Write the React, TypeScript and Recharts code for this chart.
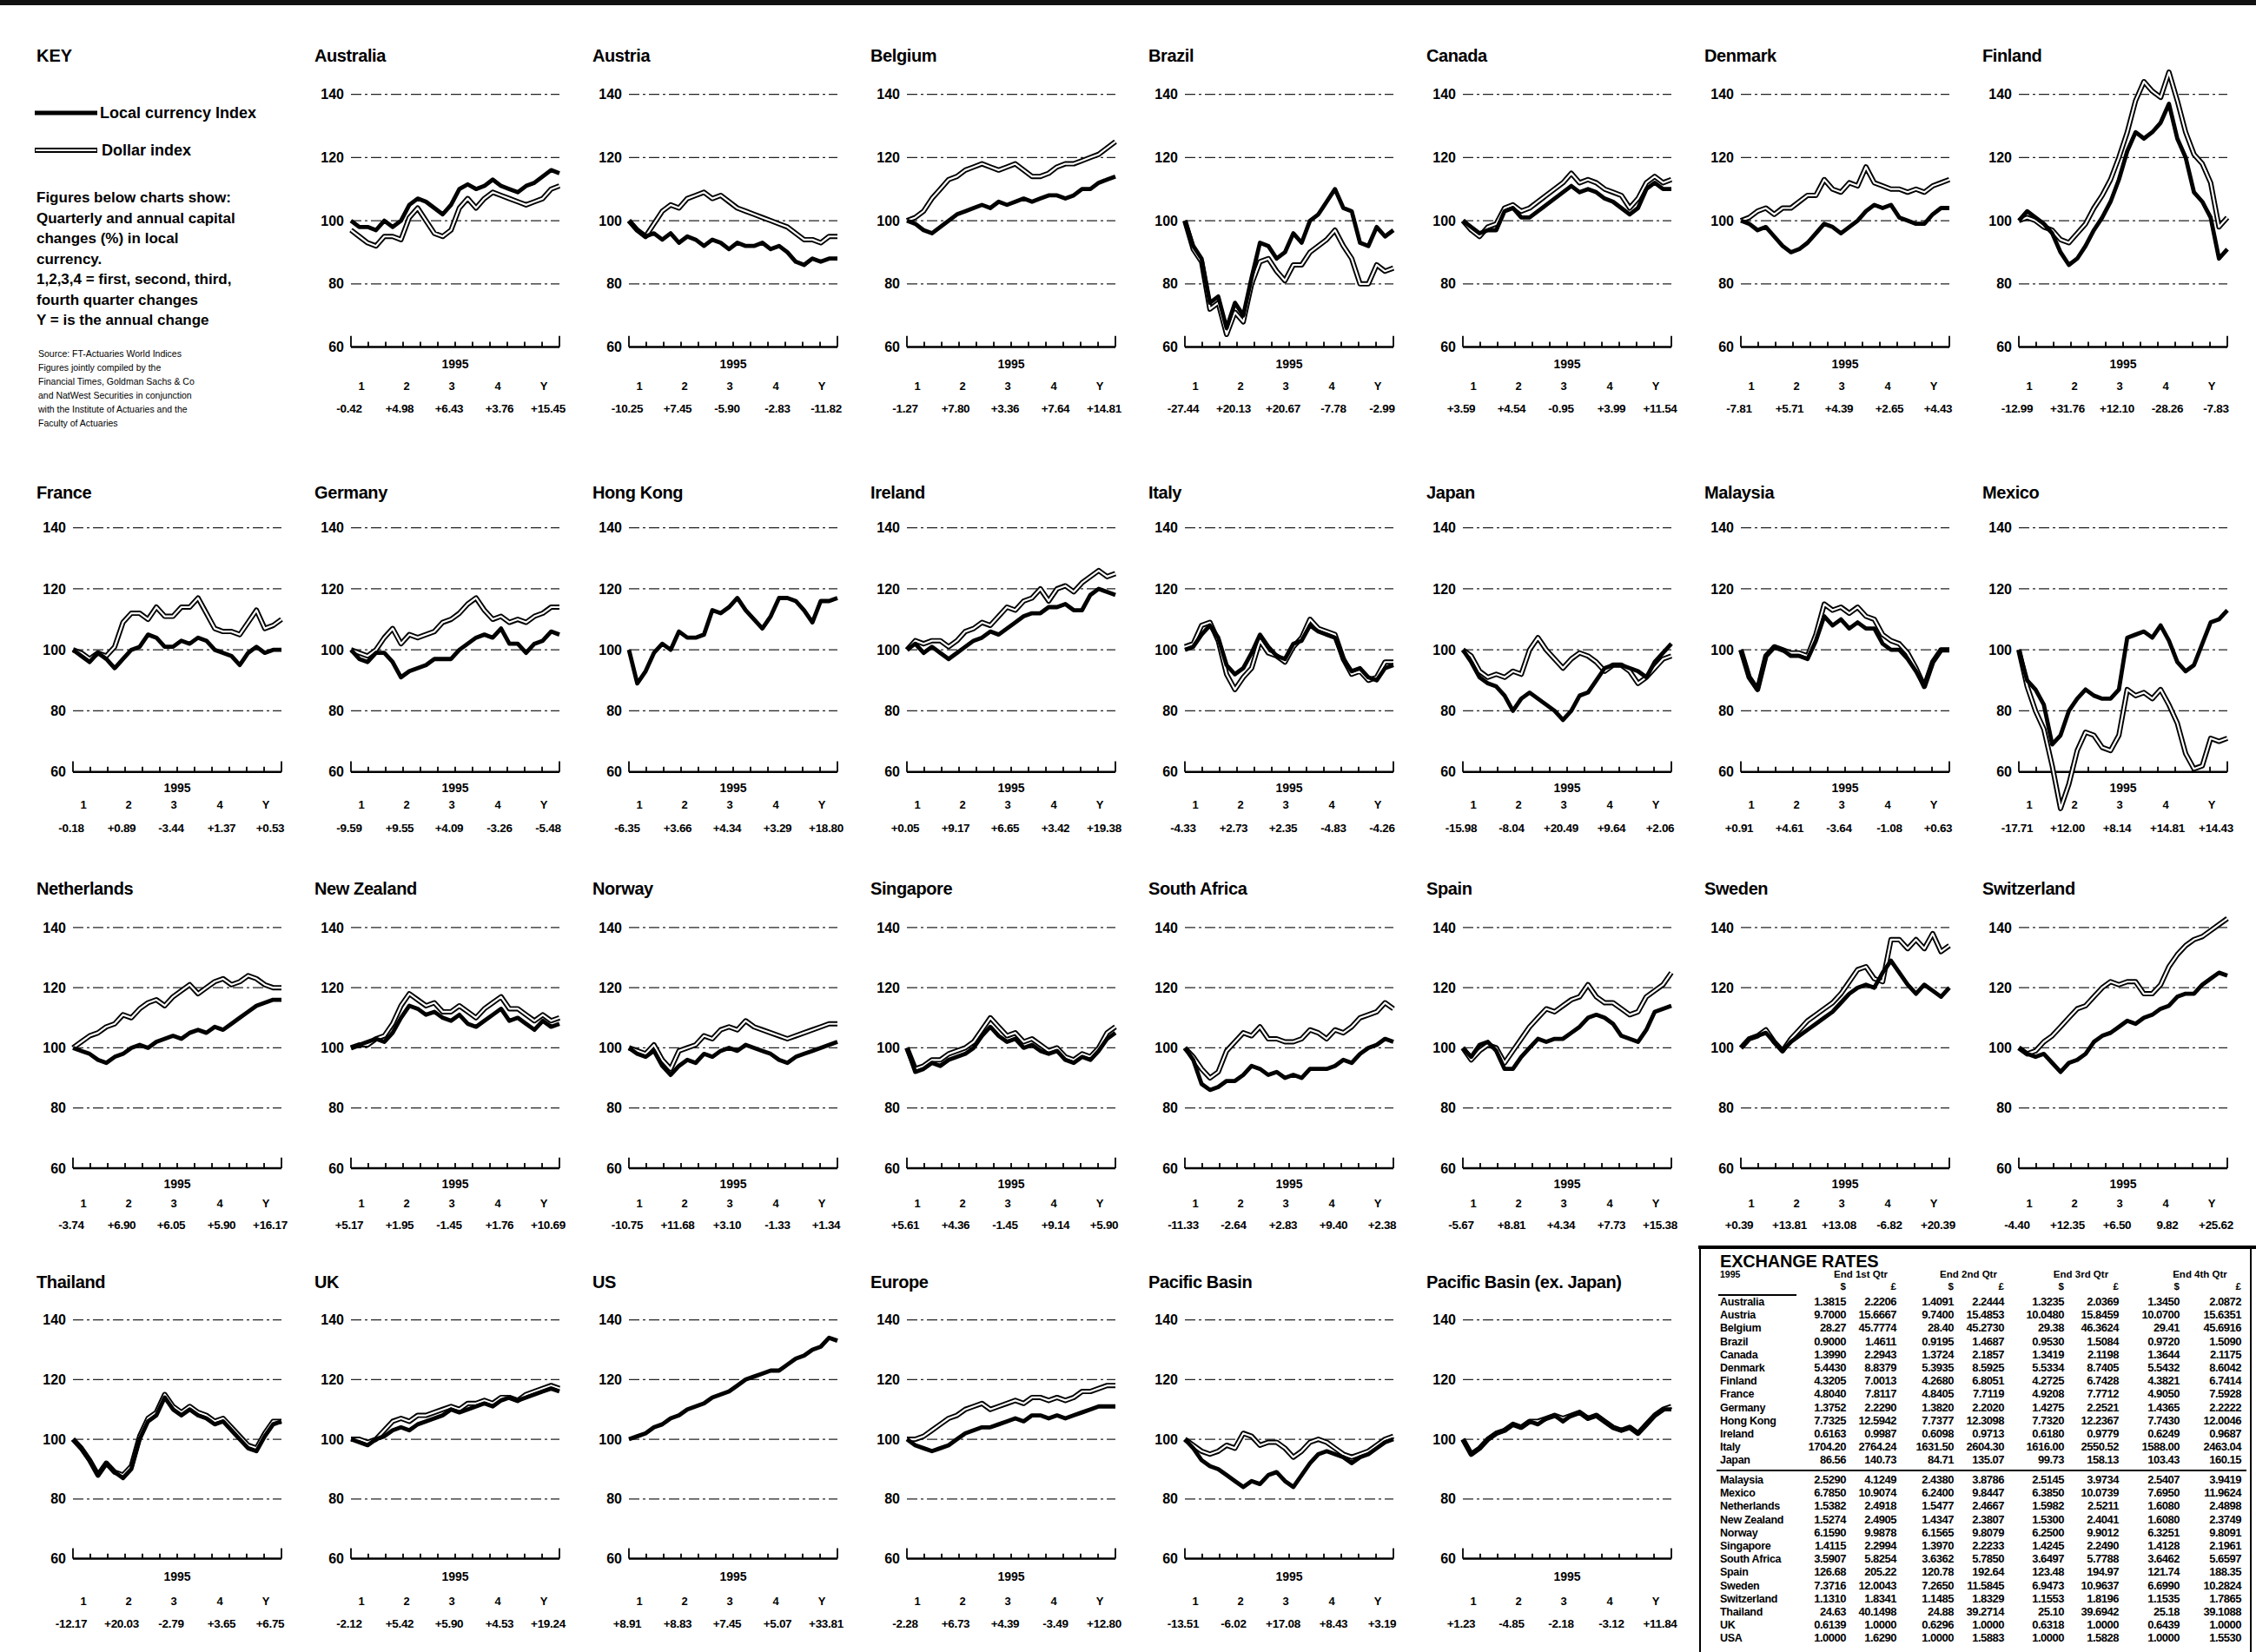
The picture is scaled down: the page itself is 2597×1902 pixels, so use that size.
import React from "react";
import { Line, LineChart, ReferenceLine, XAxis, YAxis } from "recharts";

const FONT = "'Liberation Sans', Arial, Helvetica, sans-serif";

// axis settings shared by every small chart
const yTicks = [60, 80, 100, 120, 140];
const gridValues = [80, 100, 120, 140];
const monthTicks = [0, 2.08, 4.17, 6.25, 8.33, 10.42, 12.5, 14.58, 16.67, 18.75, 20.83, 22.92, 25];
const quarterLabels = ["1", "2", "3", "4", "Y"];
const yearLabel = "1995";
const yMin = 40;
const yMax = 155;

// index values, fortnightly through 1995 (local currency / dollar)
const australiaLocal = [100, 98, 98, 97, 100, 98, 100, 105, 107, 106, 104, 102, 105, 110, 111.5, 110, 111, 113, 111, 110, 109, 111, 112, 114, 116, 115];
const australiaDollar = [97, 95, 93, 92, 95, 95, 94, 101, 104, 100, 96, 95, 97, 104, 107, 104, 107, 109, 108, 107, 106, 105, 106, 107, 110, 111];
const austriaLocal = [100, 97, 95, 96, 94, 96, 93, 95, 94, 92, 94, 93, 91, 93, 92, 92, 93, 91, 92, 90, 87, 86, 88, 87, 88, 88];
const austriaDollar = [100, 97, 95, 99, 103, 105, 104, 107, 108, 109, 107, 108, 106, 104, 103, 102, 101, 100, 99, 98, 96, 94, 94, 93, 95, 95];
const belgiumLocal = [100, 99, 97, 96, 98, 100, 102, 103, 104, 105, 104, 106, 105, 106, 107, 106, 107, 108, 108, 107, 108, 110, 110, 112, 113, 114];
const belgiumDollar = [100, 101, 103, 107, 110, 113, 114, 116, 117, 118, 117, 116, 117, 118, 116, 114, 114, 115, 117, 118, 118, 119, 120, 121, 123, 125];
const brazilLocal = [100, 92, 88, 74, 76, 66, 74, 70, 82, 93, 92, 88, 90, 96, 93, 100, 102, 106, 110, 104, 103, 93, 92, 98, 95, 97];
const brazilDollar = [100, 91, 87, 72, 74, 64, 71, 68, 80, 87, 88, 84, 81, 86, 86, 90, 92, 94, 97, 92, 88, 80, 80, 86, 84, 85];
const canadaLocal = [100, 98, 96, 97, 97, 103, 104, 101, 101, 103, 105, 107, 109, 111, 109, 110, 109, 107, 106, 104, 102, 104, 110, 112, 110, 110];
const canadaDollar = [100, 97, 95, 98, 99, 104, 105, 103, 104, 106, 108, 110, 112, 115, 112, 113, 112, 110, 109, 108, 104, 107, 112, 114, 112, 113];
const denmarkLocal = [100, 99, 97, 98, 95, 92, 90, 91, 93, 96, 99, 98, 96, 98, 100, 103, 105, 104, 105, 101, 100, 99, 99, 102, 104, 104];
const denmarkDollar = [100, 101, 103, 104, 102, 104, 104, 106, 108, 108, 113, 110, 109, 112, 111, 117, 112, 111, 110, 110, 109, 110, 109, 111, 112, 113];
const finlandLocal = [100, 103, 101, 99, 96, 90, 86, 88, 92, 97, 101, 106, 113, 122, 128, 126, 128, 131, 137, 126, 120, 109, 106, 101, 88, 91];
const finlandDollar = [100, 101, 100, 98, 97, 94, 93, 96, 99, 104, 108, 113, 120, 128, 138, 144, 141, 139, 147, 138, 128, 121, 118, 112, 98, 101];

const franceLocal = [100, 98, 96, 99, 97, 94, 97, 100, 101, 105, 104, 101, 101, 103, 102, 104, 103, 100, 99, 98, 95, 99, 101, 99, 100, 100];
const franceDollar = [100, 99, 97, 99, 98, 101, 109, 112, 112, 110, 114, 111, 111, 114, 114, 117, 112, 107, 106, 106, 105, 109, 113, 107, 108, 110];
const germanyLocal = [100, 97, 96, 99, 99, 96, 91, 93, 94, 95, 97, 97, 97, 100, 102, 104, 105, 104, 107, 102, 102, 99, 102, 103, 106, 105];
const germanyDollar = [100, 99, 98, 100, 104, 107, 102, 105, 104, 105, 106, 109, 110, 112, 115, 117, 113, 110, 111, 109, 110, 109, 111, 112, 114, 114];
const hongKongLocal = [100, 89, 93, 99, 102, 100, 106, 104, 104, 105, 113, 112, 114, 117, 113, 110, 107, 111, 117, 117, 116, 113, 109, 116, 116, 117];
const irelandLocal = [100, 102, 99, 101, 99, 97, 99, 101, 103, 104, 106, 105, 107, 109, 111, 112, 112, 114, 114, 115, 113, 113, 118, 120, 119, 118];
const irelandDollar = [100, 103, 102, 103, 103, 101, 103, 106, 107, 109, 108, 111, 114, 113, 116, 117, 120, 116, 120, 121, 119, 122, 124, 126, 124, 125];
const italyLocal = [100, 101, 105, 108, 104, 95, 92, 94, 99, 105, 101, 98, 97, 102, 103, 108, 106, 105, 104, 97, 93, 94, 91, 90, 94, 95];
const italyDollar = [101, 102, 108, 109, 103, 92, 87, 91, 94, 103, 99, 98, 96, 101, 104, 110, 107, 106, 105, 97, 92, 93, 90, 91, 96, 96];
const japanLocal = [100, 96, 91, 89, 88, 85, 80, 84, 86, 84, 82, 80, 77, 80, 85, 86, 90, 94, 95, 95, 94, 93, 91, 96, 99, 102];
const japanDollar = [100, 98, 93, 91, 92, 91, 93, 92, 100, 104, 100, 97, 94, 97, 99, 98, 96, 93, 95, 95, 93, 89, 91, 94, 97, 98];
const malaysiaLocal = [100, 91, 87, 98, 101, 100, 98, 98, 97, 103, 111, 108, 110, 107, 109, 107, 107, 102, 100, 100, 97, 93, 88, 96, 100, 100];
const malaysiaDollar = [100, 91, 87, 98, 101, 100, 99, 99, 98, 105, 115, 113, 114, 112, 114, 111, 110, 105, 103, 102, 99, 94, 88, 96, 100, 100];
const mexicoLocal = [100, 90, 87, 82, 69, 72, 80, 84, 87, 85, 84, 84, 87, 104, 105, 106, 104, 108, 103, 96, 93, 95, 102, 109, 110, 113];
const mexicoDollar = [100, 88, 80, 74, 62, 48, 56, 67, 73, 72, 68, 67, 72, 87, 85, 86, 84, 87, 82, 76, 66, 61, 62, 71, 70, 71];

const netherlandsLocal = [100, 99, 98, 96, 95, 97, 98, 100, 101, 100, 102, 103, 104, 103, 105, 106, 105, 107, 106, 108, 110, 112, 114, 115, 116, 116];
const netherlandsDollar = [100, 102, 104, 105, 107, 108, 111, 110, 113, 115, 116, 114, 117, 119, 121, 118, 120, 122, 123, 121, 122, 124, 123, 121, 120, 120];
const newZealandLocal = [100, 101, 102, 103, 102, 105, 110, 114, 113, 111, 112, 110, 109, 111, 108, 107, 109, 111, 113, 109, 110, 108, 106, 109, 107, 108];
const newZealandDollar = [100, 101, 101, 103, 104, 108, 114, 118, 116, 114, 115, 112, 112, 114, 112, 110, 113, 115, 117, 113, 113, 111, 109, 111, 109, 110];
const norwayLocal = [100, 98, 97, 99, 94, 91, 94, 96, 95, 98, 97, 99, 100, 99, 101, 100, 99, 98, 96, 95, 97, 98, 99, 100, 101, 102];
const norwayDollar = [100, 99, 98, 101, 96, 93, 99, 100, 101, 104, 103, 106, 107, 106, 109, 107, 106, 105, 104, 103, 104, 105, 106, 107, 108, 108];
const singaporeLocal = [100, 92, 93, 95, 94, 96, 97, 98, 100, 104, 107, 104, 102, 103, 100, 101, 99, 98, 99, 96, 95, 97, 96, 99, 103, 105];
const singaporeDollar = [100, 93, 94, 96, 96, 98, 99, 100, 102, 106, 110, 107, 104, 105, 102, 103, 101, 99, 100, 97, 96, 98, 97, 100, 105, 107];
const southAfricaLocal = [100, 96, 88, 86, 87, 89, 89, 91, 94, 93, 91, 92, 90, 91, 90, 93, 93, 93, 94, 96, 95, 98, 100, 101, 103, 102];
const southAfricaDollar = [100, 97, 93, 90, 92, 99, 102, 105, 104, 107, 103, 103, 102, 102, 103, 106, 105, 103, 106, 105, 107, 110, 111, 112, 115, 113];
const spainLocal = [100, 97, 101, 102, 99, 93, 93, 97, 100, 103, 102, 103, 103, 105, 107, 110, 111, 110, 108, 104, 103, 102, 106, 112, 113, 114];
const spainDollar = [100, 96, 99, 101, 100, 95, 99, 103, 107, 110, 113, 112, 114, 116, 117, 121, 117, 115, 115, 113, 111, 112, 117, 119, 121, 125];
const swedenLocal = [100, 103, 104, 105, 102, 99, 102, 104, 106, 108, 110, 112, 115, 118, 120, 121, 120, 125, 129, 125, 121, 118, 121, 119, 117, 120];
const swedenDollar = [100, 103, 104, 106, 102, 99, 103, 106, 109, 111, 113, 115, 118, 122, 126, 127, 123, 122, 136, 136, 133, 136, 133, 138, 132, 134];
const switzerlandLocal = [100, 98, 97, 98, 95, 92, 95, 96, 98, 102, 104, 105, 107, 109, 108, 110, 111, 113, 114, 117, 118, 118, 121, 123, 125, 124];
const switzerlandDollar = [100, 98, 99, 102, 104, 107, 110, 113, 114, 117, 120, 122, 121, 122, 122, 118, 118, 121, 127, 131, 134, 136, 137, 139, 141, 143];

const thailandLocal = [100, 97, 93, 88, 92, 89, 87, 90, 100, 106, 108, 114, 110, 108, 110, 108, 107, 105, 106, 103, 100, 97, 96, 101, 105, 106];
const thailandDollar = [100, 97, 93, 88, 92, 89, 88, 91, 101, 107, 109, 115, 111, 109, 111, 109, 108, 106, 107, 104, 101, 98, 97, 102, 106, 106];
const ukLocal = [100, 99, 98, 100, 101, 103, 104, 103, 105, 106, 107, 108, 110, 109, 110, 111, 112, 111, 113, 114, 113, 114, 115, 116, 117, 116];
const ukDollar = [100, 100, 99, 100, 103, 106, 107, 106, 108, 108, 109, 110, 111, 110, 112, 112, 113, 112, 114, 114, 113, 115, 116, 117, 118, 117];
const usLocal = [100, 101, 102, 104, 105, 107, 108, 110, 111, 112, 114, 115, 116, 118, 120, 121, 122, 123, 123, 125, 127, 128, 130, 131, 134, 133];
const europeLocal = [100, 98, 97, 96, 97, 98, 100, 102, 103, 104, 104, 105, 106, 107, 106, 108, 108, 107, 108, 107, 108, 109, 110, 111, 111, 111];
const europeDollar = [100, 100, 101, 103, 105, 107, 108, 110, 111, 112, 110, 111, 112, 113, 112, 114, 114, 113, 114, 113, 114, 116, 116, 117, 118, 118];
const pacificLocal = [100, 97, 93, 91, 90, 88, 86, 84, 86, 85, 88, 89, 86, 84, 88, 92, 95, 96, 95, 94, 92, 94, 95, 97, 99, 100];
const pacificDollar = [100, 98, 96, 95, 96, 98, 97, 102, 101, 98, 99, 99, 97, 94, 96, 99, 100, 99, 97, 95, 94, 95, 96, 98, 100, 101];
const pacificExJapanLocal = [100, 95, 97, 100, 102, 103, 105, 104, 106, 105, 107, 108, 106, 108, 109, 107, 108, 106, 104, 103, 104, 102, 105, 108, 110, 110];
const pacificExJapanDollar = [100, 95, 97, 100, 102, 103, 105, 104, 106, 106, 107, 108, 107, 108, 109, 107, 108, 106, 104, 103, 104, 102, 105, 108, 110, 111];

// quarterly and annual capital changes (%), local currency
const australiaChanges = ["-0.42", "+4.98", "+6.43", "+3.76", "+15.45"];
const austriaChanges = ["-10.25", "+7.45", "-5.90", "-2.83", "-11.82"];
const belgiumChanges = ["-1.27", "+7.80", "+3.36", "+7.64", "+14.81"];
const brazilChanges = ["-27.44", "+20.13", "+20.67", "-7.78", "-2.99"];
const canadaChanges = ["+3.59", "+4.54", "-0.95", "+3.99", "+11.54"];
const denmarkChanges = ["-7.81", "+5.71", "+4.39", "+2.65", "+4.43"];
const finlandChanges = ["-12.99", "+31.76", "+12.10", "-28.26", "-7.83"];
const franceChanges = ["-0.18", "+0.89", "-3.44", "+1.37", "+0.53"];
const germanyChanges = ["-9.59", "+9.55", "+4.09", "-3.26", "-5.48"];
const hongKongChanges = ["-6.35", "+3.66", "+4.34", "+3.29", "+18.80"];
const irelandChanges = ["+0.05", "+9.17", "+6.65", "+3.42", "+19.38"];
const italyChanges = ["-4.33", "+2.73", "+2.35", "-4.83", "-4.26"];
const japanChanges = ["-15.98", "-8.04", "+20.49", "+9.64", "+2.06"];
const malaysiaChanges = ["+0.91", "+4.61", "-3.64", "-1.08", "+0.63"];
const mexicoChanges = ["-17.71", "+12.00", "+8.14", "+14.81", "+14.43"];
const netherlandsChanges = ["-3.74", "+6.90", "+6.05", "+5.90", "+16.17"];
const newZealandChanges = ["+5.17", "+1.95", "-1.45", "+1.76", "+10.69"];
const norwayChanges = ["-10.75", "+11.68", "+3.10", "-1.33", "+1.34"];
const singaporeChanges = ["+5.61", "+4.36", "-1.45", "+9.14", "+5.90"];
const southAfricaChanges = ["-11.33", "-2.64", "+2.83", "+9.40", "+2.38"];
const spainChanges = ["-5.67", "+8.81", "+4.34", "+7.73", "+15.38"];
const swedenChanges = ["+0.39", "+13.81", "+13.08", "-6.82", "+20.39"];
const switzerlandChanges = ["-4.40", "+12.35", "+6.50", "9.82", "+25.62"];
const thailandChanges = ["-12.17", "+20.03", "-2.79", "+3.65", "+6.75"];
const ukChanges = ["-2.12", "+5.42", "+5.90", "+4.53", "+19.24"];
const usChanges = ["+8.91", "+8.83", "+7.45", "+5.07", "+33.81"];
const europeChanges = ["-2.28", "+6.73", "+4.39", "-3.49", "+12.80"];
const pacificChanges = ["-13.51", "-6.02", "+17.08", "+8.43", "+3.19"];
const pacificExJapanChanges = ["+1.23", "-4.85", "-2.18", "-3.12", "+11.84"];

type Panel = {
  name: string;
  row: number;
  col: number;
  local: number[];
  dollar?: number[];
  changes: string[];
};

const panels: Panel[] = [
  { name: "Australia", row: 0, col: 1, local: australiaLocal, dollar: australiaDollar, changes: australiaChanges },
  { name: "Austria", row: 0, col: 2, local: austriaLocal, dollar: austriaDollar, changes: austriaChanges },
  { name: "Belgium", row: 0, col: 3, local: belgiumLocal, dollar: belgiumDollar, changes: belgiumChanges },
  { name: "Brazil", row: 0, col: 4, local: brazilLocal, dollar: brazilDollar, changes: brazilChanges },
  { name: "Canada", row: 0, col: 5, local: canadaLocal, dollar: canadaDollar, changes: canadaChanges },
  { name: "Denmark", row: 0, col: 6, local: denmarkLocal, dollar: denmarkDollar, changes: denmarkChanges },
  { name: "Finland", row: 0, col: 7, local: finlandLocal, dollar: finlandDollar, changes: finlandChanges },
  { name: "France", row: 1, col: 0, local: franceLocal, dollar: franceDollar, changes: franceChanges },
  { name: "Germany", row: 1, col: 1, local: germanyLocal, dollar: germanyDollar, changes: germanyChanges },
  { name: "Hong Kong", row: 1, col: 2, local: hongKongLocal, changes: hongKongChanges },
  { name: "Ireland", row: 1, col: 3, local: irelandLocal, dollar: irelandDollar, changes: irelandChanges },
  { name: "Italy", row: 1, col: 4, local: italyLocal, dollar: italyDollar, changes: italyChanges },
  { name: "Japan", row: 1, col: 5, local: japanLocal, dollar: japanDollar, changes: japanChanges },
  { name: "Malaysia", row: 1, col: 6, local: malaysiaLocal, dollar: malaysiaDollar, changes: malaysiaChanges },
  { name: "Mexico", row: 1, col: 7, local: mexicoLocal, dollar: mexicoDollar, changes: mexicoChanges },
  { name: "Netherlands", row: 2, col: 0, local: netherlandsLocal, dollar: netherlandsDollar, changes: netherlandsChanges },
  { name: "New Zealand", row: 2, col: 1, local: newZealandLocal, dollar: newZealandDollar, changes: newZealandChanges },
  { name: "Norway", row: 2, col: 2, local: norwayLocal, dollar: norwayDollar, changes: norwayChanges },
  { name: "Singapore", row: 2, col: 3, local: singaporeLocal, dollar: singaporeDollar, changes: singaporeChanges },
  { name: "South Africa", row: 2, col: 4, local: southAfricaLocal, dollar: southAfricaDollar, changes: southAfricaChanges },
  { name: "Spain", row: 2, col: 5, local: spainLocal, dollar: spainDollar, changes: spainChanges },
  { name: "Sweden", row: 2, col: 6, local: swedenLocal, dollar: swedenDollar, changes: swedenChanges },
  { name: "Switzerland", row: 2, col: 7, local: switzerlandLocal, dollar: switzerlandDollar, changes: switzerlandChanges },
  { name: "Thailand", row: 3, col: 0, local: thailandLocal, dollar: thailandDollar, changes: thailandChanges },
  { name: "UK", row: 3, col: 1, local: ukLocal, dollar: ukDollar, changes: ukChanges },
  { name: "US", row: 3, col: 2, local: usLocal, changes: usChanges },
  { name: "Europe", row: 3, col: 3, local: europeLocal, dollar: europeDollar, changes: europeChanges },
  { name: "Pacific Basin", row: 3, col: 4, local: pacificLocal, dollar: pacificDollar, changes: pacificChanges },
  { name: "Pacific Basin (ex. Japan)", row: 3, col: 5, local: pacificExJapanLocal, dollar: pacificExJapanDollar, changes: pacificExJapanChanges }
];

// exchange rate table
const rateColumns = ["End 1st Qtr", "End 2nd Qtr", "End 3rd Qtr", "End 4th Qtr"];
const rateCountriesTop = ["Australia", "Austria", "Belgium", "Brazil", "Canada", "Denmark", "Finland", "France", "Germany", "Hong Kong", "Ireland", "Italy", "Japan"];
const rateValuesTop = [
  ["1.3815", "2.2206", "1.4091", "2.2444", "1.3235", "2.0369", "1.3450", "2.0872"],
  ["9.7000", "15.6667", "9.7400", "15.4853", "10.0480", "15.8459", "10.0700", "15.6351"],
  ["28.27", "45.7774", "28.40", "45.2730", "29.38", "46.3624", "29.41", "45.6916"],
  ["0.9000", "1.4611", "0.9195", "1.4687", "0.9530", "1.5084", "0.9720", "1.5090"],
  ["1.3990", "2.2943", "1.3724", "2.1857", "1.3419", "2.1198", "1.3644", "2.1175"],
  ["5.4430", "8.8379", "5.3935", "8.5925", "5.5334", "8.7405", "5.5432", "8.6042"],
  ["4.3205", "7.0013", "4.2680", "6.8051", "4.2725", "6.7428", "4.3821", "6.7414"],
  ["4.8040", "7.8117", "4.8405", "7.7119", "4.9208", "7.7712", "4.9050", "7.5928"],
  ["1.3752", "2.2290", "1.3820", "2.2020", "1.4275", "2.2521", "1.4365", "2.2222"],
  ["7.7325", "12.5942", "7.7377", "12.3098", "7.7320", "12.2367", "7.7430", "12.0046"],
  ["0.6163", "0.9987", "0.6098", "0.9713", "0.6180", "0.9779", "0.6249", "0.9687"],
  ["1704.20", "2764.24", "1631.50", "2604.30", "1616.00", "2550.52", "1588.00", "2463.04"],
  ["86.56", "140.73", "84.71", "135.07", "99.73", "158.13", "103.43", "160.15"]
];
const rateCountriesBottom = ["Malaysia", "Mexico", "Netherlands", "New Zealand", "Norway", "Singapore", "South Africa", "Spain", "Sweden", "Switzerland", "Thailand", "UK", "USA"];
const rateValuesBottom = [
  ["2.5290", "4.1249", "2.4380", "3.8786", "2.5145", "3.9734", "2.5407", "3.9419"],
  ["6.7850", "10.9074", "6.2400", "9.8447", "6.3850", "10.0739", "7.6950", "11.9624"],
  ["1.5382", "2.4918", "1.5477", "2.4667", "1.5982", "2.5211", "1.6080", "2.4898"],
  ["1.5274", "2.4905", "1.4347", "2.3807", "1.5300", "2.4041", "1.6080", "2.3749"],
  ["6.1590", "9.9878", "6.1565", "9.8079", "6.2500", "9.9012", "6.3251", "9.8091"],
  ["1.4115", "2.2994", "1.3970", "2.2233", "1.4245", "2.2490", "1.4128", "2.1961"],
  ["3.5907", "5.8254", "3.6362", "5.7850", "3.6497", "5.7788", "3.6462", "5.6597"],
  ["126.68", "205.22", "120.78", "192.64", "123.48", "194.97", "121.74", "188.35"],
  ["7.3716", "12.0043", "7.2650", "11.5845", "6.9473", "10.9637", "6.6990", "10.2824"],
  ["1.1310", "1.8341", "1.1485", "1.8329", "1.1553", "1.8196", "1.1535", "1.7865"],
  ["24.63", "40.1498", "24.88", "39.2714", "25.10", "39.6942", "25.18", "39.1088"],
  ["0.6139", "1.0000", "0.6296", "1.0000", "0.6318", "1.0000", "0.6439", "1.0000"],
  ["1.0000", "1.6290", "1.0000", "1.5883", "1.0000", "1.5828", "1.0000", "1.5530"]
];

// page layout (pixels)
const rowLayout = [
  { title: 64, y140: 109, y60: 400, year: 19, q: 45, num: 71 },
  { title: 567, y140: 608, y60: 889, year: 18, q: 38, num: 65 },
  { title: 1023, y140: 1068, y60: 1345, year: 18, q: 41, num: 66 },
  { title: 1476, y140: 1520, y60: 1795, year: 20, q: 49, num: 75 }
];
const qCenters = [56, 108, 160, 213, 266];
const numCenters = [42, 100, 157, 215, 271];
const rateRight = [2125, 2183, 2249, 2307, 2376, 2439, 2509, 2580];

const abs = (left: number, top: number, extra: React.CSSProperties = {}): React.CSSProperties => ({
  position: "absolute",
  left,
  top,
  whiteSpace: "nowrap",
  ...extra
});

function SmallChart({ panel }: { panel: Panel }) {
  const r = rowLayout[panel.row];
  const left = 40 + 320 * panel.col;
  const k = (r.y60 - r.y140) / 80;
  const top = r.y140 - (yMax - 140) * k;
  const height = (yMax - yMin) * k;
  const data = panel.local.map((v, i) => ({
    i,
    local: v,
    dollar: panel.dollar ? panel.dollar[i] : null
  }));

  return (
    <>
      <div style={abs(left + 2, r.title - 13, { fontSize: 20, fontWeight: 700, lineHeight: "26px", letterSpacing: -0.4 })}>
        {panel.name}
      </div>
      <div style={abs(left, top, { width: 290, height, zIndex: 2 })}>
        <LineChart width={290} height={height} data={data} margin={{ top: 0, right: 6, bottom: 0, left: 0 }}>
          <XAxis hide type="number" dataKey="i" domain={[0, 25]} />
          <YAxis
            type="number"
            domain={[yMin, yMax]}
            allowDataOverflow
            ticks={yTicks}
            interval={0}
            axisLine={false}
            tickLine={false}
            width={44}
            tickMargin={2}
            tick={{ fontSize: 16, fill: "#000", fontFamily: FONT, fontWeight: 700 }}
          />
          {gridValues.map((g) => (
            <ReferenceLine key={g} y={g} stroke="#222" strokeWidth={1.3} strokeDasharray="12 4 3 4" />
          ))}
          <ReferenceLine y={60} stroke="#000" strokeWidth={2.4} />
          {monthTicks.map((t, idx) => (
            <ReferenceLine
              key={"t" + idx}
              segment={[
                { x: t, y: 60 },
                { x: t, y: idx === 0 || idx === monthTicks.length - 1 ? 63.5 : 61.7 }
              ]}
              stroke="#000"
              strokeWidth={1.8}
            />
          ))}
          {panel.dollar && (
            <Line type="linear" dataKey="dollar" stroke="#000" strokeWidth={6} dot={false} strokeLinejoin="round" isAnimationActive={false} />
          )}
          {panel.dollar && (
            <Line type="linear" dataKey="dollar" stroke="#fff" strokeWidth={2.2} dot={false} strokeLinejoin="round" isAnimationActive={false} />
          )}
          <Line type="linear" dataKey="local" stroke="#000" strokeWidth={4.8} dot={false} strokeLinejoin="round" isAnimationActive={false} />
        </LineChart>
      </div>
      <div style={abs(left + 164 - 30, r.y60 + r.year - 9, { width: 60, textAlign: "center", fontSize: 14, fontWeight: 700, lineHeight: "18px" })}>
        {yearLabel}
      </div>
      {quarterLabels.map((q, idx) => (
        <div key={q} style={abs(left + qCenters[idx] - 15, r.y60 + r.q - 8, { width: 30, textAlign: "center", fontSize: 13, fontWeight: 700, lineHeight: "16px" })}>
          {q}
        </div>
      ))}
      {panel.changes.map((c, idx) => (
        <div key={idx} style={abs(left + numCenters[idx] - 30, r.y60 + r.num - 8, { width: 60, textAlign: "center", fontSize: 13.5, fontWeight: 700, lineHeight: "16px", letterSpacing: -0.3 })}>
          {c}
        </div>
      ))}
    </>
  );
}

function KeyPanel() {
  const para = [
    "Figures below charts show:",
    "Quarterly and annual capital",
    "changes (%) in local",
    "currency.",
    "1,2,3,4 = first, second, third,",
    "fourth quarter changes",
    "Y = is the annual change"
  ];
  const source = [
    "Source: FT-Actuaries World Indices",
    "Figures jointly compiled by the",
    "Financial Times, Goldman Sachs & Co",
    "and NatWest Securities in conjunction",
    "with the Institute of Actuaries and the",
    "Faculty of Actuaries"
  ];
  return (
    <>
      <div style={abs(42, 51, { fontSize: 20, fontWeight: 900, lineHeight: "26px" })}>KEY</div>
      <svg style={abs(38, 120)} width={76} height={66}>
        <line x1={2} x2={74} y1={10} y2={10} stroke="#000" strokeWidth={4.8} />
        <line x1={2} x2={74} y1={53} y2={53} stroke="#000" strokeWidth={6} />
        <line x1={3} x2={73} y1={53} y2={53} stroke="#fff" strokeWidth={2.2} />
      </svg>
      <div style={abs(115, 119, { fontSize: 18, fontWeight: 700, lineHeight: "22px" })}>Local currency Index</div>
      <div style={abs(117, 162, { fontSize: 18, fontWeight: 700, lineHeight: "22px" })}>Dollar index</div>
      {para.map((p, idx) => (
        <div key={idx} style={abs(42, 216 + idx * 23.5, { fontSize: 17, fontWeight: 700, lineHeight: "23px" })}>
          {p}
        </div>
      ))}
      {source.map((s, idx) => (
        <div key={idx} style={abs(44, 399 + idx * 16, { fontSize: 10.5, lineHeight: "16px" })}>
          {s}
        </div>
      ))}
    </>
  );
}

function RateRow({ name, values, y }: { name: string; values: string[]; y: number }) {
  return (
    <>
      <div style={abs(1980, y - 8, { fontSize: 12.5, fontWeight: 700, lineHeight: "16px", letterSpacing: -0.3 })}>{name}</div>
      {values.map((v, idx) => (
        <div key={idx} style={abs(rateRight[idx] - 70, y - 8, { width: 70, textAlign: "right", fontSize: 13, lineHeight: "16px", fontWeight: 700, letterSpacing: -0.5 })}>
          {v}
        </div>
      ))}
    </>
  );
}

function ExchangeTable() {
  const rowH = 15.2;
  return (
    <>
      <div style={abs(1955, 1434, { width: 642, height: 4, background: "#000" })} />
      <div style={abs(1956, 1438, { width: 2, height: 470, background: "#000" })} />
      <div style={abs(2590, 1438, { width: 2, height: 470, background: "#000" })} />
      <div style={abs(1980, 1440, { fontSize: 20, fontWeight: 900, lineHeight: "24px", letterSpacing: -0.2 })}>EXCHANGE RATES</div>
      <div style={abs(1980, 1460, { fontSize: 10.5, fontWeight: 700, lineHeight: "14px" })}>1995</div>
      {rateColumns.map((c, idx) => {
        const center = (rateRight[idx * 2] - 20 + rateRight[idx * 2 + 1] - 20) / 2 + 8;
        return (
          <div key={c} style={abs(center - 50, 1460, { width: 100, textAlign: "center", fontSize: 11.5, fontWeight: 700, lineHeight: "14px" })}>
            {c}
          </div>
        );
      })}
      {rateRight.map((x, idx) => (
        <div key={idx} style={abs(x - 20, 1474, { width: 20, textAlign: "right", fontSize: 11.5, fontWeight: 700, lineHeight: "14px" })}>
          {idx % 2 === 0 ? "$" : "£"}
        </div>
      ))}
      <div style={abs(1978, 1490, { width: 90, height: 2, background: "#000" })} />
      {rateCountriesTop.map((c, idx) => (
        <RateRow key={c} name={c} values={rateValuesTop[idx]} y={1499 + idx * rowH} />
      ))}
      <div style={abs(1976, 1692, { width: 610, height: 2, background: "#000" })} />
      {rateCountriesBottom.map((c, idx) => (
        <RateRow key={c} name={c} values={rateValuesBottom[idx]} y={1704 + idx * rowH} />
      ))}
    </>
  );
}

export default function App() {
  return (
    <div
      style={{
        position: "absolute",
        left: 0,
        top: 0,
        width: 2597,
        height: 1902,
        overflow: "hidden",
        background: "#fff",
        color: "#000",
        fontFamily: FONT
      }}
    >
      <div style={abs(0, 0, { width: 2597, height: 6, background: "#111" })} />
      <KeyPanel />
      {panels.map((p) => (
        <SmallChart key={p.name} panel={p} />
      ))}
      <ExchangeTable />
    </div>
  );
}
